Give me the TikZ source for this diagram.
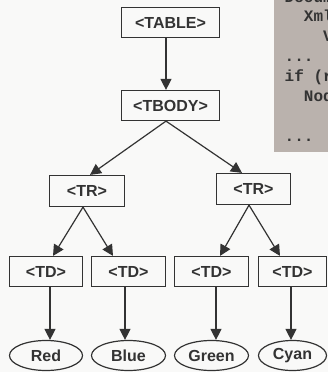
\documentclass[tikz,border=0pt]{standalone}
\usepackage{fontspec}
\setmainfont{Liberation Sans}
\newfontfamily\codefont{Liberation Mono}
\usetikzlibrary{arrows.meta,shapes.geometric}
\definecolor{pagebg}{HTML}{F9F9F8}
\definecolor{codebg}{HTML}{BAB2AD}
\definecolor{ink}{HTML}{333333}
\begin{document}
\begin{tikzpicture}[x=1bp,y=-1bp,
  tag/.style={draw=ink, line width=1.2bp, rectangle, inner sep=0pt,
    minimum height=30bp, text=ink,
    font=\fontsize{16bp}{18bp}\selectfont\bfseries},
  leaf/.style={tag, ellipse},
  link/.style={draw=ink, line width=1.2bp, -{Triangle[length=11bp,width=11bp]}},
  codeline/.style={anchor=base west, inner sep=0pt, text=ink,
    font=\codefont\fontsize{16bp}{20bp}\selectfont\bfseries}]
\useasboundingbox (0,0) rectangle (328,372);
\clip (0,0) rectangle (328,372);
\fill[pagebg] (0,0) rectangle (328,372);

% code listing panel
\fill[codebg] (274,-2) rectangle (330,151.5);
\node[codeline] (c0) at (284.5,2)   {Document};
\node[codeline] (c1) at (303.7,21.5) {XmlNode};
\node[codeline] (c2) at (322.9,41.5) {Value};
\node[codeline] (c3) at (284.5,61.5) {...};
\node[codeline] (c4) at (284.5,81.5) {if (root};
\node[codeline] (c5) at (303.7,101.5) {Node};
\node[codeline] (c7) at (284.5,141) {...};

% element tree
\node[tag, minimum width=98bp] (table) at (170.5,22.5) {<TABLE>};
\node[tag, minimum width=98bp] (tbody) at (170.5,105.5) {<TBODY>};
\node[tag, minimum width=75bp, minimum height=31bp] (trl) at (87,191) {<TR>};
\node[tag, minimum width=74bp, minimum height=31bp] (trr) at (253.5,189) {<TR>};
\node[tag, minimum width=73bp] (td1) at (46,271.5) {<TD>};
\node[tag, minimum width=74bp] (td2) at (128.5,271.5) {<TD>};
\node[tag, minimum width=74bp] (td3) at (211.5,271.5) {<TD>};
\node[tag, minimum width=68bp] (td4) at (292.5,271.5) {<TD>};
\node[leaf, minimum width=73bp] (red) at (46,355.5) {Red};
\node[leaf, minimum width=74bp] (blue) at (128.5,355.5) {Blue};
\node[leaf, minimum width=74bp] (green) at (211.5,355.5) {Green};
\node[leaf, minimum width=68bp] (cyan) at (292.5,355.5) {Cyan};

\draw[link] ([xshift=-4.5bp]table.south) -- ([xshift=-4.5bp]tbody.north);
\draw[link] ([xshift=-4.5bp]tbody.south) -- ([xshift=3bp]trl.north);
\draw[link] ([xshift=-4.5bp]tbody.south) -- ([xshift=-11.5bp]trr.north);
\draw[link] ([xshift=-4bp]trl.south) -- ([xshift=7bp]td1.north);
\draw[link] ([xshift=-4bp]trl.south) -- ([xshift=-15.5bp]td2.north);
\draw[link] ([xshift=-4.5bp]trr.south) -- ([xshift=8.5bp]td3.north);
\draw[link] ([xshift=-4.5bp]trr.south) -- ([xshift=-12.5bp]td4.north);
\draw[link] ([xshift=4bp]td1.south) -- ([xshift=4bp]red.north);
\draw[link] ([xshift=-3.5bp]td2.south) -- ([xshift=-3.5bp]blue.north);
\draw[link] ([xshift=4.5bp]td3.south) -- ([xshift=4.5bp]green.north);
\draw[link] ([xshift=-1.5bp]td4.south) -- ([xshift=-1.5bp]cyan.north);
\end{tikzpicture}
\end{document}
